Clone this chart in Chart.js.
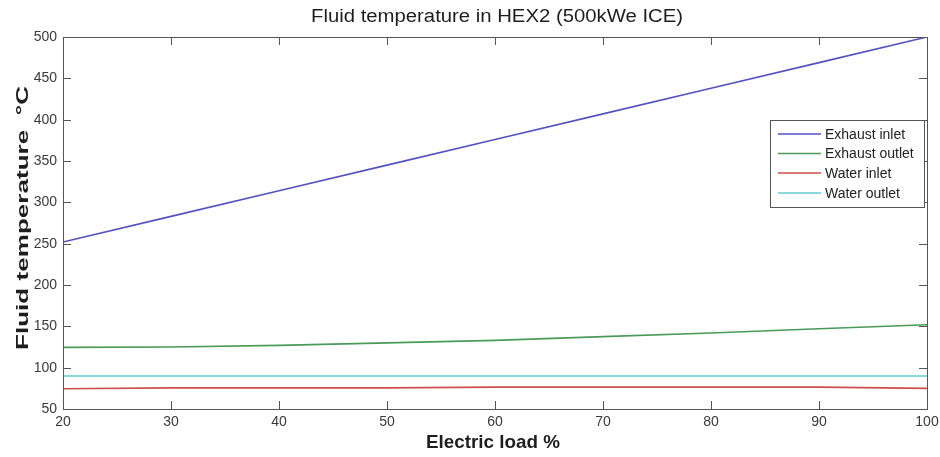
<!DOCTYPE html>
<html>
<head>
<meta charset="utf-8">
<script src="https://cdn.jsdelivr.net/npm/chart.js@4.4.1/dist/chart.umd.min.js"></script>
<style>
  html, body { margin: 0; padding: 0; background: #fff; }
  #wrap { width: 940px; height: 457px; }
</style>
</head>
<body>
<div id="wrap"><canvas id="chart" width="940" height="457"></canvas></div>
<script>
// values
const loadPct = [20, 30, 40, 50, 60, 70, 80, 90, 100];
const exhaustInlet = [252, 283, 314, 345, 376, 407, 438, 469, 500];
const exhaustOutlet = [124.5, 125, 127, 130, 133, 137.5, 142, 147, 152];
const waterInlet = [74.5, 75.5, 75.5, 75.5, 76.5, 76.5, 76.5, 76.5, 75];
const waterOutlet = [90, 90, 90, 90, 90, 90, 90, 90, 90];

const seriesNames = ['Exhaust inlet', 'Exhaust outlet', 'Water inlet', 'Water outlet'];
const seriesColors = ['#5252c4', '#4a9a58', '#cc4e4e', '#62cccc'];
const seriesValues = [exhaustInlet, exhaustOutlet, waterInlet, waterOutlet];

const xTicks = [20, 30, 40, 50, 60, 70, 80, 90, 100];
const yTicks = [50, 100, 150, 200, 250, 300, 350, 400, 450, 500];

const FONT = '"Liberation Sans", Arial, sans-serif';

// draw text stretched to a given width (the reference glyphs are a bit wider)
function fitText(ctx, text, x, y, font, width, angle) {
  ctx.save();
  ctx.font = font;
  const w = ctx.measureText(text).width;
  ctx.translate(x, y);
  if (angle) ctx.rotate(angle);
  ctx.scale(width / w, 1);
  ctx.textAlign = 'center';
  ctx.textBaseline = 'middle';
  ctx.fillText(text, 0, 0);
  ctx.restore();
}

const matlabFrame = {
  id: 'matlabFrame',
  afterDraw(chart) {
    const ctx = chart.ctx;
    const a = chart.chartArea;
    const xs = chart.scales.x;
    const ys = chart.scales.y;

    ctx.save();
    ctx.strokeStyle = '#555';
    ctx.lineWidth = 1;
    ctx.strokeRect(Math.round(a.left) + 0.5, Math.round(a.top) + 0.5,
      Math.round(a.right - a.left), Math.round(a.bottom - a.top));

    // inward ticks on all four sides
    ctx.beginPath();
    xTicks.forEach(v => {
      const px = Math.round(xs.getPixelForValue(v)) + 0.5;
      ctx.moveTo(px, a.bottom); ctx.lineTo(px, a.bottom - 8);
      ctx.moveTo(px, a.top); ctx.lineTo(px, a.top + 8);
    });
    yTicks.forEach(v => {
      const py = Math.round(ys.getPixelForValue(v)) + 0.5;
      ctx.moveTo(a.left, py); ctx.lineTo(a.left + 8, py);
      ctx.moveTo(a.right, py); ctx.lineTo(a.right - 8, py);
    });
    ctx.stroke();

    // legend
    const lx = 770, ly = 120, lw = 154, lh = 87;
    ctx.fillStyle = '#fff';
    ctx.fillRect(lx, ly, lw, lh);
    ctx.strokeStyle = '#555';
    ctx.strokeRect(lx + 0.5, ly + 0.5, lw, lh);
    const rows = [134, 153.5, 173, 193];
    ctx.font = '14px ' + FONT;
    ctx.textAlign = 'left';
    ctx.textBaseline = 'middle';
    chart.data.datasets.forEach((ds, i) => {
      ctx.strokeStyle = ds.borderColor;
      ctx.lineWidth = 1.5;
      ctx.beginPath();
      ctx.moveTo(778, rows[i]);
      ctx.lineTo(821, rows[i]);
      ctx.stroke();
      ctx.fillStyle = '#222';
      ctx.fillText(ds.label, 825, rows[i] + 1);
    });

    // titles
    ctx.fillStyle = '#1e1e1e';
    fitText(ctx, 'Fluid temperature in HEX2 (500kWe ICE)', 497, 17, '18px ' + FONT, 372);
    fitText(ctx, 'Electric load %', 493, 443, 'bold 19px ' + FONT, 134);
    fitText(ctx, 'Fluid temperature  \u00B0C', 23, 218, 'bold 17px ' + FONT, 264, -Math.PI / 2);
    ctx.restore();
  }
};

new Chart(document.getElementById('chart'), {
  type: 'line',
  data: {
    datasets: seriesNames.map((name, i) => ({
      label: name,
      data: loadPct.map((x, j) => ({ x: x, y: seriesValues[i][j] })),
      borderColor: seriesColors[i],
      borderWidth: 1.6,
      pointRadius: 0,
      tension: 0,
      fill: false
    }))
  },
  options: {
    responsive: false,
    animation: false,
    layout: { padding: { top: 37, right: 13, left: 0, bottom: 0 } },
    plugins: {
      legend: { display: false },
      title: { display: false },
      tooltip: { enabled: false }
    },
    scales: {
      x: {
        type: 'linear',
        min: 20,
        max: 100,
        afterFit: s => { s.height = 48; s.paddingLeft = 0; s.paddingRight = 0; },
        afterBuildTicks: s => { s.ticks = xTicks.map(v => ({ value: v })); },
        grid: { display: false, drawTicks: false },
        border: { display: false },
        ticks: { color: '#3a3a3a', font: { family: FONT, size: 14 }, padding: 5, maxRotation: 0 }
      },
      y: {
        type: 'linear',
        min: 50,
        max: 500,
        afterFit: s => { s.width = 63; s.paddingTop = 0; s.paddingBottom = 0; },
        afterBuildTicks: s => { s.ticks = yTicks.map(v => ({ value: v })); },
        grid: { display: false, drawTicks: false },
        border: { display: false },
        ticks: { color: '#3a3a3a', font: { family: FONT, size: 14 }, padding: 6 }
      }
    }
  },
  plugins: [matlabFrame]
});
</script>
</body>
</html>
